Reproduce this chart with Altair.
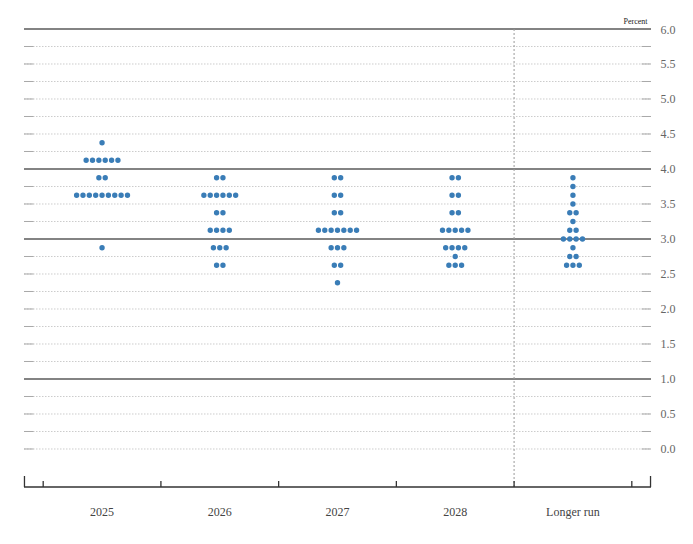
import altair as alt
import pandas as pd

categories = ["2025", "2026", "2027", "2028", "Longer run"]

rates_2025 = [4.375, 4.125, 3.875, 3.625, 2.875]
counts_2025 = [1, 6, 2, 9, 1]
rates_2026 = [3.875, 3.625, 3.375, 3.125, 2.875, 2.625]
counts_2026 = [2, 6, 2, 4, 3, 2]
rates_2027 = [3.875, 3.625, 3.375, 3.125, 2.875, 2.625, 2.375]
counts_2027 = [2, 2, 2, 7, 3, 2, 1]
rates_2028 = [3.875, 3.625, 3.375, 3.125, 2.875, 2.75, 2.625]
counts_2028 = [2, 2, 2, 5, 4, 1, 3]
rates_lr = [3.875, 3.75, 3.625, 3.5, 3.375, 3.25, 3.125, 3.0, 2.875, 2.75, 2.625]
counts_lr = [1, 1, 1, 1, 2, 1, 2, 4, 1, 2, 3]

rates = [rates_2025, rates_2026, rates_2027, rates_2028, rates_lr]
counts = [counts_2025, counts_2026, counts_2027, counts_2028, counts_lr]

grid_values = [0.0, 0.25, 0.5, 0.75, 1.0, 1.25, 1.5, 1.75, 2.0, 2.25, 2.5, 2.75,
               3.0, 3.25, 3.5, 3.75, 4.0, 4.25, 4.5, 4.75, 5.0, 5.25, 5.5, 5.75, 6.0]
solid_values = [1.0, 3.0, 4.0, 6.0]
y_labels = [0.0, 0.5, 1.0, 1.5, 2.0, 2.5, 3.0, 3.5, 4.0, 4.5, 5.0, 5.5, 6.0]
tick_positions = [0.5, 1.5, 2.5, 3.5, 4.5, 5.5]

XMIN, XMAX = 0.337, 5.663
YMIN, YMAX = -0.543, 6.0
W, H = 627, 458
SPACING = 0.054
ENDSEG = 0.08

# dots table
rows = []
for i, cat in enumerate(categories):
    for r, n in zip(rates[i], counts[i]):
        for k in range(n):
            rows.append({"x": i + 1 + (k - (n - 1) / 2) * SPACING, "y": r, "cat": cat})
dots = pd.DataFrame(rows)

grid = pd.DataFrame({"y": grid_values})
grid["solid"] = grid["y"].isin(solid_values)
grid["x"] = XMIN
grid["x2"] = XMAX
grid["l2"] = XMIN + ENDSEG
grid["r1"] = XMAX - ENDSEG
dashed = grid[~grid["solid"]]
solid = grid[grid["solid"]]

xs = alt.Scale(domain=[XMIN, XMAX], nice=False, zero=False)
ys = alt.Scale(domain=[YMIN, YMAX], nice=False, zero=False)
yaxis = alt.Axis(orient="right", values=y_labels, format=".1f", domain=False, ticks=False,
                 grid=False, labelPadding=9, labelFont="Liberation Serif", labelFontSize=12,
                 labelColor="#666666", title=None)


def X(f):
    return alt.X(f + ":Q", scale=xs, axis=None)


def Y(f):
    return alt.Y(f + ":Q", scale=ys, axis=yaxis)


dash_layer = alt.Chart(dashed).mark_rule(color="#cccccc", strokeWidth=1, strokeDash=[1.5, 1.5]).encode(
    x=X("x"), x2="x2", y=Y("y"))
end_left = alt.Chart(dashed).mark_rule(color="#a8a8a8", strokeWidth=1).encode(
    x=X("x"), x2="l2", y=Y("y"))
end_right = alt.Chart(dashed).mark_rule(color="#a8a8a8", strokeWidth=1).encode(
    x=X("r1"), x2="x2", y=Y("y"))
solid_layer = alt.Chart(solid).mark_rule(color="#5a5a5a", strokeWidth=1.3).encode(
    x=X("x"), x2="x2", y=Y("y"))

vline = alt.Chart(pd.DataFrame({"x": [4.5]})).mark_rule(
    color="#9a9a9a", strokeWidth=1, strokeDash=[2, 2]).encode(
    x=X("x"), y=alt.value(0), y2=alt.value(H))

base_df = pd.DataFrame({"x": [XMIN], "x2": [XMAX], "y": [YMIN]})
baseline = alt.Chart(base_df).mark_rule(color="#333333", strokeWidth=1.5).encode(
    x=X("x"), x2="x2", y=Y("y"))

ticks_df = pd.DataFrame({"x": tick_positions})
ticks = alt.Chart(ticks_df).mark_rule(color="#333333", strokeWidth=1.3).encode(
    x=X("x"), y=alt.value(H), y2=alt.value(H - 6))
ends_df = pd.DataFrame({"x": [XMIN + 0.004, XMAX - 0.004]})
end_ticks = alt.Chart(ends_df).mark_rule(color="#333333", strokeWidth=1.3).encode(
    x=X("x"), y=alt.value(H), y2=alt.value(H - 11))

labels_df = pd.DataFrame({"x": [1, 2, 3, 4, 5], "label": categories})
xlabels = alt.Chart(labels_df).mark_text(
    font="Liberation Serif", fontSize=12, color="#444444", baseline="middle", dy=25).encode(
    x=X("x"), y=alt.value(H), text="label:N")

pct = alt.Chart(pd.DataFrame({"x": [XMAX - 0.03], "y": [YMAX], "t": ["Percent"]})).mark_text(
    font="Liberation Serif", fontSize=8, color="#222222", align="right", baseline="bottom", dy=-3).encode(
    x=X("x"), y=Y("y"), text="t:N")

dot_layer = alt.Chart(dots).mark_circle(size=29, color="#3a7db7", opacity=1).encode(
    x=X("x"), y=Y("y"))

chart = alt.layer(dash_layer, end_left, end_right, solid_layer, vline, baseline, ticks, end_ticks,
                  xlabels, pct, dot_layer).properties(
    width=W, height=H,
    padding={"left": 16, "top": 21, "right": 30, "bottom": 40},
    autosize=alt.AutoSizeParams(type="none"),
).configure_view(stroke=None)

chart.save("out.html", embed_options={"renderer": "svg", "actions": False})
